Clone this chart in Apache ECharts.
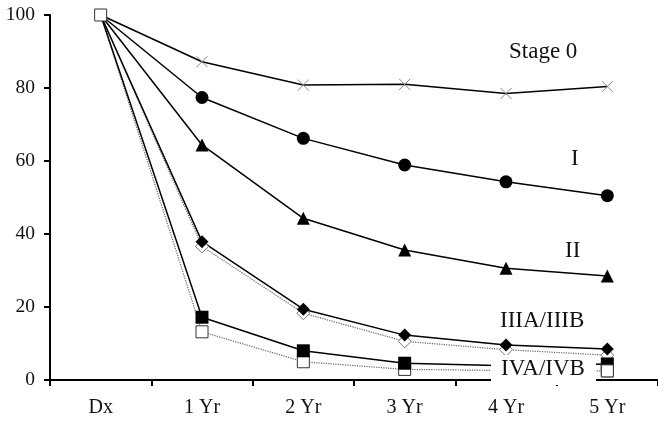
<!DOCTYPE html>
<html><head><meta charset="utf-8">
<script src="https://cdn.jsdelivr.net/npm/echarts@6/dist/echarts.min.js"></script>
<style>html,body{margin:0;padding:0;background:#fff}#c{width:658px;height:421px}</style>
</head><body><div id="c"></div>
<script>
const categories = ['Dx', '1 Yr', '2 Yr', '3 Yr', '4 Yr', '5 Yr'];
const yTicks = [0, 20, 40, 60, 80, 100];
const stage0 = [100, 87.2, 80.8, 81.0, 78.5, 80.4];
const stageI = [100, 77.4, 66.2, 58.9, 54.3, 50.5];
const stageII = [100, 64.4, 44.3, 35.6, 30.6, 28.5];
const stageIIIA = [100, 37.9, 19.4, 12.3, 9.6, 8.5];
const stageIIIB = [100, 36.6, 18.3, 10.6, 8.3, 6.8];
const stageIVA = [100, 17.2, 8.0, 4.6, 3.9, 4.4];
const stageIVB = [100, 13.2, 5.0, 2.9, 2.6, 2.5];
const labels = ['Stage 0', 'I', 'II', 'IIIA/IIIB', 'IVA/IVB'];

const FONT = '"Liberation Serif", "DejaVu Serif", serif';
const crossPath = 'path://M0,0L10,10M10,0L0,10';

function mk(name, data, symbol, opts) {
  opts = opts || {};
  return {
    name: name, type: 'line', data: data.map((v, i) => ({value: v, symbol: (i === 0 && !opts.showFirst) ? 'none' : symbol})),
    symbolSize: opts.size || 12,
    z: opts.z || 2,
    lineStyle: {color: opts.lineColor || '#000', width: opts.lineWidth || 1.5, type: opts.dashed ? 'dotted' : 'solid', opacity: opts.hideLine ? 0 : 1},
    itemStyle: opts.itemStyle || {color: '#000'},
    animation: false
  };
}

const hollowSq = {color: '#fff', borderColor: '#333', borderWidth: 1};
const chart = echarts.init(document.getElementById('c'));
const series = [
  mk('Stage 0', stage0, crossPath, {size: 11, itemStyle: {color: 'none', borderColor: '#888', borderWidth: 1}}),
  mk('I', stageI, 'circle', {size: 13}),
  mk('II', stageII, 'triangle', {size: 13}),
  mk('IIIB', stageIIIB, 'diamond', {dashed: true, lineColor: '#666', lineWidth: 1.2, size: 13, itemStyle: {color: '#fff', borderColor: '#777', borderWidth: 1}}),
  mk('IIIA', stageIIIA, 'diamond', {size: 13}),
  mk('IVB', stageIVB, 'rect', {dashed: true, lineColor: '#666', lineWidth: 1.2, size: 12, itemStyle: hollowSq}),
  mk('IVA', stageIVA, 'rect', {size: 13})
];
const topMarker = mk('IVB top', stageIVB, 'none', {hideLine: true, z: 3, itemStyle: hollowSq});
topMarker.data = stageIVB.map((v, j) => ({value: v, symbol: (j === 0 || j === stageIVB.length - 1) ? 'rect' : 'none'}));
series.push(topMarker);

chart.setOption({
  backgroundColor: '#fff',
  animation: false,
  grid: {left: 50, right: -2, top: 15, bottom: 41},
  xAxis: {
    type: 'category', data: categories, boundaryGap: true,
    axisLine: {lineStyle: {color: '#000', width: 2}},
    axisTick: {show: true, length: 6, lineStyle: {color: '#000', width: 2}},
    axisLabel: {color: '#111', fontFamily: FONT, fontSize: 20, margin: 18},
    splitLine: {show: false}
  },
  yAxis: {
    type: 'value', min: yTicks[0], max: yTicks[yTicks.length - 1], interval: 20,
    axisLine: {show: true, lineStyle: {color: '#000', width: 2}},
    axisTick: {show: true, length: 6, lineStyle: {color: '#000', width: 2}},
    axisLabel: {color: '#111', fontFamily: FONT, fontSize: 19.5, margin: 15},
    splitLine: {show: false}
  },
  series: series,
  graphic: [
    {type: 'text', left: 509, top: 40, z: 100, style: {text: labels[0], font: '23px ' + FONT, fill: '#111'}},
    {type: 'text', left: 571, top: 147, z: 100, style: {text: labels[1], font: '23px ' + FONT, fill: '#111'}},
    {type: 'text', left: 565, top: 239, z: 100, style: {text: labels[2], font: '23px ' + FONT, fill: '#111'}},
    {type: 'text', left: 500, top: 309, z: 100, style: {text: labels[3], font: '23px ' + FONT, fill: '#111'}},
    {type: 'rect', left: 491, top: 355, z: 99, shape: {width: 105, height: 30}, style: {fill: '#fff'}},
    {type: 'text', left: 501, top: 357, z: 100, style: {text: labels[4], font: '23px ' + FONT, fill: '#111'}}
  ]
});
</script>
</body></html>
